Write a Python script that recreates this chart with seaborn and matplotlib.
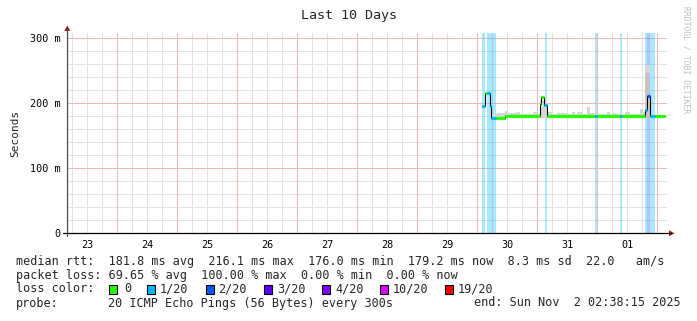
import numpy as np
import matplotlib
matplotlib.use("Agg")
import matplotlib.pyplot as plt
import seaborn as sns
from matplotlib.patches import Rectangle, Polygon
from matplotlib.lines import Line2D

# ---------------- data (x in days since Oct 23 00:00, y in ms) ----------------
day_labels = ["23", "24", "25", "26", "27", "28", "29", "30", "31", "01"]
day_centers = [0.5, 1.5, 2.5, 3.5, 4.5, 5.5, 6.5, 7.5, 8.5, 9.5]

loss_labels = ["0", "1/20", "2/20", "3/20", "4/20", "10/20", "19/20"]
loss_colors = ["#26ff00", "#00b8ff", "#0059ff", "#5e00ff", "#7e00ff", "#dd00ff", "#ff0000"]

# median rtt segments
seg_start = [7.083, 7.133, 7.167, 7.212, 7.237, 7.323, 7.462, 8.045, 8.070, 8.120, 8.167,
             8.962, 9.000, 9.378, 9.412, 9.795, 9.828, 9.878, 9.962]
seg_end = [7.133, 7.167, 7.212, 7.237, 7.323, 7.462, 8.045, 8.070, 8.120, 8.167, 8.962,
           9.000, 9.378, 9.412, 9.795, 9.828, 9.878, 9.962, 10.128]
seg_value = [196, 216, 216, 196, 177, 177, 180.5, 198.5, 209, 197, 180.5,
             180.5, 180.5, 180.5, 180.5, 190, 211, 180.5, 180.5]
seg_loss = [1, 0, 1, 1, 1, 0, 0, 0, 0, 1, 0,
            1, 0, 1, 0, 1, 2, 1, 0]

# packet-loss background bands
band_start = [7.083, 7.167, 8.128, 8.962, 9.378, 9.795, 9.828, 9.878]
band_end = [7.133, 7.323, 8.167, 9.000, 9.412, 9.828, 9.878, 9.962]
band_loss = [1, 1, 1, 1, 1, 1, 2, 1]

# smoke (ping spread)
smoke_edges = [7.245, 7.328, 7.462, 7.512, 7.645, 7.712, 7.928, 7.995, 8.045, 8.162,
               8.245, 8.328, 8.495, 8.578, 8.628, 8.662, 8.745, 8.828, 8.878, 8.995,
               9.162, 9.212, 9.262, 9.328, 9.462, 9.545, 9.712, 9.762, 9.795, 9.878,
               9.962, 10.128]
smoke_hi = [183, 185, 188.5, 185.5, 187, 184, 187, 183.5, 205, 187,
            183, 184.5, 183, 186, 184, 187, 183.5, 194, 184.5, 183,
            186, 184, 185, 183, 186, 184, 192, 186, 259, 184, 182]
smoke_lo = 178
smoke_core_t = [9.795, 9.878]
smoke_core_hi = [246]

# ---------------- figure ----------------
W, H = 697, 321
sns.set_style("white")
plt.rcParams["font.family"] = ["DejaVu Sans Mono", "DejaVu Sans"]

fig = plt.figure(figsize=(W / 100, H / 100), dpi=100)
fig.patch.set_facecolor("white")

X0, X1, Y0, Y1 = 67.3, 667.0, 32.5, 233.3
ax = fig.add_axes([X0 / W, 1 - Y1 / H, (X1 - X0) / W, (Y1 - Y0) / H])
ax.set_xlim(1 / 6, 10 + 1 / 6)
ax.set_ylim(0, (Y1 - Y0) / 0.65)
for s in ax.spines.values():
    s.set_visible(False)

# grid
for d in np.arange(0.25, 10.2, 0.25):
    major = abs(d - round(d)) < 1e-6
    ax.axvline(d, color="#f2b8b8" if major else "#e2e2e2", lw=0.72, zorder=1 if major else 0.5)
for v in range(20, 310, 20):
    major = v % 100 == 0
    ax.axhline(v, color="#f2b8b8" if major else "#e2e2e2", lw=0.72, zorder=1 if major else 0.5)

# loss bands
for s, e, l in zip(band_start, band_end, band_loss):
    ax.axvspan(s, e, color=loss_colors[l], alpha=0.33, lw=0, zorder=2)

# smoke
ax.stairs(smoke_hi, smoke_edges, baseline=smoke_lo, fill=True, color="#d6d6d6", lw=0, zorder=3)
ax.stairs(smoke_core_hi, smoke_core_t, baseline=smoke_lo, fill=True, color="#c4c4c4", lw=0, zorder=3)

# median line: thin black steps + thick loss-coloured segments
xs = list(seg_start) + [seg_end[-1]]
ys = list(seg_value) + [seg_value[-1]]
sns.lineplot(x=xs, y=ys, drawstyle="steps-post", color="black", lw=0.75,
             estimator=None, sort=False, ax=ax, zorder=4)
ax.hlines(seg_value, seg_start, seg_end, colors=[loss_colors[l] for l in seg_loss],
          lw=2.3, zorder=5)

# ticks
ax.set_xticks(day_centers, day_labels)
ax.set_yticks([0, 100, 200, 300], ["0", "100 m", "200 m", "300 m"])
ax.tick_params(axis="both", length=0, labelsize=7.3, colors="black")
ax.tick_params(axis="x", pad=4.5)
ax.tick_params(axis="y", pad=4.8)
ax.set_xlabel("")
ax.set_ylabel("")


def P(x, y):
    return (x / W, 1 - y / H)


# axis lines and arrows
fig.add_artist(Line2D([P(X0, 236)[0], P(X0, 29)[0]], [P(X0, 236)[1], P(X0, 29)[1]],
                      color="#505050", lw=0.9))
fig.add_artist(Line2D([P(63, Y1)[0], P(671, Y1)[0]], [P(63, Y1)[1], P(671, Y1)[1]],
                      color="black", lw=0.9))
fig.add_artist(Polygon([P(X0 - 3, 31), P(X0 + 3, 31), P(X0, 25.5)], closed=True,
                       color="#9a1e1e", lw=0))
fig.add_artist(Polygon([P(669, Y1 - 3), P(669, Y1 + 3), P(674.5, Y1)], closed=True,
                       color="#9a1e1e", lw=0))

# titles
fig.text(*P(349, 16), "Last 10 Days", ha="center", va="center", fontsize=9.6)
fig.text(*P(15, 133), "Seconds", ha="center", va="center", rotation=90, fontsize=8)
fig.text(*P(686, 60), "RRDTOOL / TOBI OETIKER", ha="center", va="center",
         rotation=270, fontsize=5.8, color="#c0c0c0")

# legend
fs = 8.5
fig.text(*P(16, 261),
         "median rtt:  181.8 ms avg  216.1 ms max  176.0 ms min  179.2 ms now  8.3 ms sd  22.0   am/s",
         ha="left", va="center", fontsize=fs)
fig.text(*P(16, 275), "packet loss: 69.65 % avg  100.00 % max  0.00 % min  0.00 % now",
         ha="left", va="center", fontsize=fs)
fig.text(*P(16, 289), "loss color:", ha="left", va="center", fontsize=fs)
sq_x = [109, 147, 206, 264, 322, 380, 445]
lab_x = [124, 160, 218, 277, 335, 393, 458]
for sx, lx, lab, col in zip(sq_x, lab_x, loss_labels, loss_colors):
    fig.add_artist(Rectangle(P(sx, 293.5), 8 / W, 9 / H, facecolor=col,
                             edgecolor="black", lw=0.8))
    fig.text(*P(lx, 289), lab, ha="left", va="center", fontsize=fs)
fig.text(*P(16, 303), "probe:", ha="left", va="center", fontsize=fs)
fig.text(*P(108, 303), "20 ICMP Echo Pings (56 Bytes) every 300s", ha="left", va="center", fontsize=fs)
fig.text(*P(681, 303), "end: Sun Nov  2 02:38:15 2025", ha="right", va="center", fontsize=fs)

fig.savefig("out.png", dpi=100, facecolor="white")
